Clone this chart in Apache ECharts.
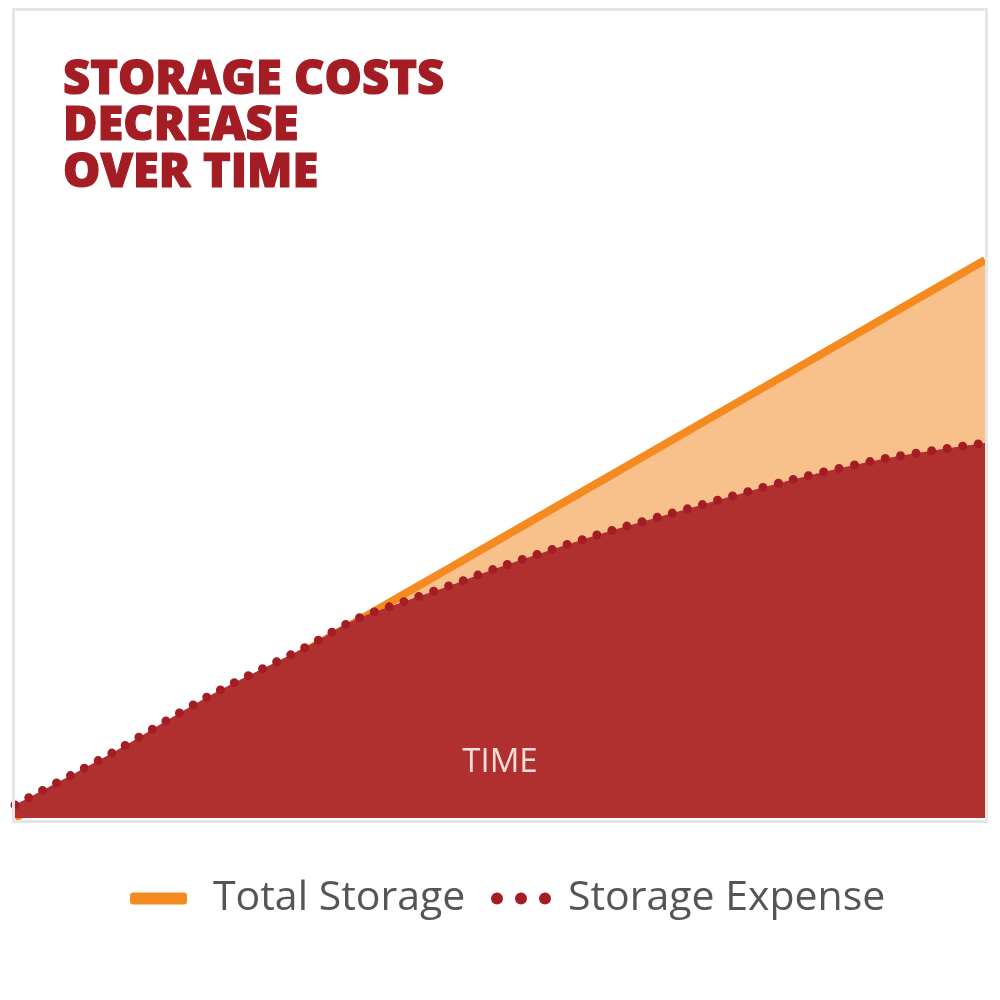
<!DOCTYPE html>
<html>
<head>
<meta charset="utf-8">
<script src="https://cdn.jsdelivr.net/npm/echarts@6/dist/echarts.min.js"></script>
<style>
  html, body { margin: 0; padding: 0; background: #fff; }
  #chart { width: 1000px; height: 1000px; }
</style>
</head>
<body>
<div id="chart"></div>
<script>
// time steps (arbitrary units, no labels on the axis)
const timeSteps = [0, 10, 20, 30, 35, 40, 45, 50, 60, 70, 80, 90, 100];
// total storage grows linearly
const totalStorage = [0, 55.8, 111.6, 167.4, 195.3, 223.2, 251.1, 279, 334.8, 390.6, 446.4, 502.2, 558];
// storage expense flattens out over time
const storageExpense = [13, 65, 122, 171, 198, 216, 233, 251, 283, 311, 338, 360, 375];

const pairs = (ys) => timeSteps.map((t, i) => [t, ys[i]]);

let chart = echarts.init(document.getElementById('chart'))

// three dots for the legend icon
const dotsIcon = 'path://M0,6a6,6 0 1,0 12,0a6,6 0 1,0 -12,0M24,6a6,6 0 1,0 12,0a6,6 0 1,0 -12,0M48,6a6,6 0 1,0 12,0a6,6 0 1,0 -12,0'

let option = {
  animation: false,
  backgroundColor: '#fff',
  title: {
    text: 'STORAGE COSTS\nDECREASE\nOVER TIME',
    left: 58,
    top: 52,
    textStyle: {
      fontFamily: 'Open Sans',
      fontWeight: 800,
      fontSize: 47,
      lineHeight: 46.5,
      color: '#a51d24',
      textBorderColor: '#a51d24',
      textBorderWidth: 1.2
    }
  },
  legend: [
    {
      data: [{ name: 'Total Storage', icon: 'roundRect' }],
      left: 125,
      top: 873,
      itemWidth: 57,
      itemHeight: 12,
      itemStyle: { color: '#f58a20' },
      textStyle: {
        fontFamily: 'Open Sans',
        fontSize: 41,
        color: '#555',
        padding: [0, 0, 0, 21]
      }
    },
    {
      data: [{ name: 'Storage Expense', icon: dotsIcon }],
      left: 486,
      top: 873,
      itemWidth: 60,
      itemHeight: 12,
      itemStyle: { color: '#a51d24' },
      textStyle: {
        fontFamily: 'Open Sans',
        fontSize: 41,
        color: '#555',
        padding: [0, 0, 0, 12]
      }
    }
  ],
  grid: {
    left: 15,
    right: 15,
    top: 218,
    bottom: 182
  },
  xAxis: {
    type: 'value',
    min: 0,
    max: 100,
    axisLine: { show: false },
    axisTick: { show: false },
    axisLabel: { show: false },
    splitLine: { show: false }
  },
  yAxis: {
    type: 'value',
    min: 0,
    max: 600,
    show: false,
    splitLine: { show: false }
  },
  graphic: [
    {
      type: 'rect',
      shape: { x: 13.5, y: 9.5, width: 973, height: 812 },
      style: { fill: 'none', stroke: '#e6e6e6', lineWidth: 3 },
      z: 100
    },
    {
      // axis title sitting inside the red area
      type: 'text',
      x: 500,
      y: 763,
      z: 100,
      style: {
        text: 'TIME',
        align: 'center',
        verticalAlign: 'middle',
        fontFamily: 'Open Sans',
        fontSize: 33,
        fill: '#f6ddd6'
      }
    }
  ],
  series: [
    {
      name: 'Total Storage',
      type: 'line',
      data: pairs(totalStorage),
      symbol: 'none',
      z: 1,
      lineStyle: { color: '#f58a20', width: 8 },
      itemStyle: { color: '#f58a20' },
      areaStyle: { color: '#f8c08a', opacity: 1 }
    },
    {
      // red area under the expense curve
      name: 'expenseArea',
      type: 'line',
      data: pairs(storageExpense),
      smooth: 0.3,
      symbol: 'none',
      z: 2,
      lineStyle: { width: 0 },
      areaStyle: { color: '#b03030', opacity: 1 },
      silent: true
    },
    {
      name: 'Storage Expense',
      type: 'line',
      data: pairs(storageExpense),
      smooth: 0.3,
      symbol: 'none',
      z: 3,
      itemStyle: { color: '#a51d24' },
      lineStyle: {
        color: '#a51d24',
        width: 9,
        type: [0, 15.7],
        cap: 'round'
      }
    }
  ]
}
chart.setOption(option)
</script>
</body>
</html>
